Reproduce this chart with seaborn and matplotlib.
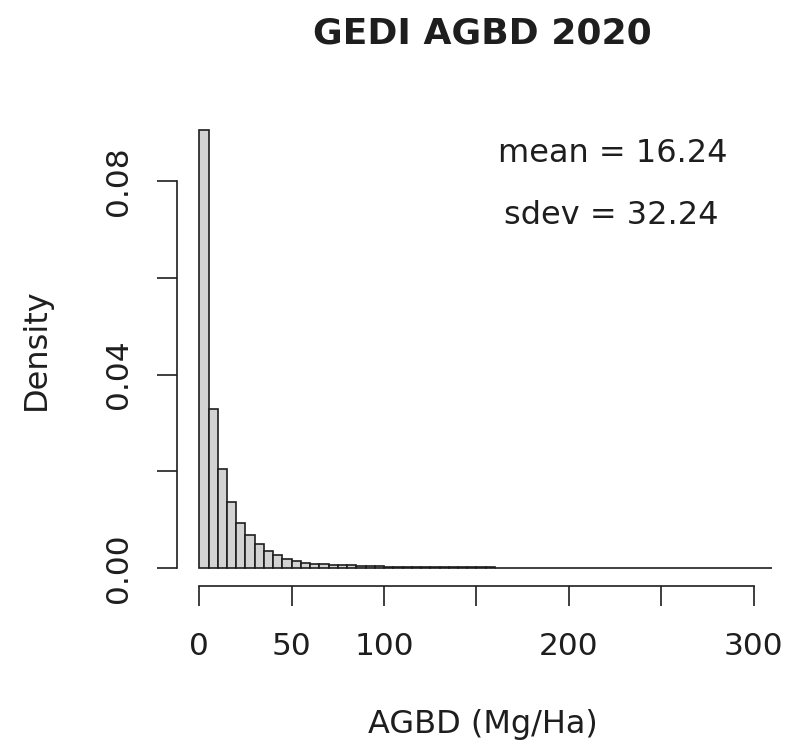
import numpy as np
import pandas as pd
import matplotlib
matplotlib.use("Agg")
import matplotlib.pyplot as plt
import seaborn as sns

# ---- data ----
bin_width = 5
bin_start = 0
density = [
    0.0905, 0.0328, 0.0205, 0.0137, 0.0094, 0.0068, 0.0050, 0.0036, 0.0026, 0.0019,
    0.0014, 0.0011, 0.0009, 0.00076, 0.00068, 0.0006, 0.00052, 0.00045, 0.0004, 0.00035,
    0.0003, 0.00027, 0.00024, 0.00022, 0.0002, 0.00018, 0.00016, 0.00015, 0.00014, 0.00013,
    0.00012, 0.00011, 0.0001, 0.0001, 0.00009, 0.00009, 0.00008, 0.00008, 0.00007, 0.00007,
    0.00007, 0.00006, 0.00006, 0.00006, 0.00005, 0.00005, 0.00005, 0.00005, 0.00004, 0.00004,
    0.00004, 0.00004, 0.00004, 0.00003, 0.00003, 0.00003, 0.00003, 0.00003, 0.00003, 0.00002,
    0.00002, 0.00002,
]
x_ticks = [0, 50, 100, 150, 200, 250, 300]
x_tick_labels = ["0", "50", "100", "", "200", "", "300"]
y_ticks = [0.00, 0.02, 0.04, 0.06, 0.08]
y_tick_labels = ["0.00", "", "0.04", "", "0.08"]
title = "GEDI AGBD 2020"
x_label = "AGBD (Mg/Ha)"
y_label = "Density"
stats_text = ["mean = 16.24", "sdev = 32.24"]

n_bins = len(density)
edges = [bin_start + bin_width * i for i in range(n_bins + 1)]
centers = [e + bin_width / 2 for e in edges[:-1]]
df = pd.DataFrame({"agbd": centers, "density": density})

# ---- style ----
sns.set_style("ticks")
plt.rcParams["font.family"] = ["DejaVu Sans"]
ink = "#1e1e1e"

fig = plt.figure(figsize=(7.88, 7.51), dpi=100)
W, H = 788, 751
left_px, right_px, bottom_px, top_px = 177, 788, 585.5, 113
ax = fig.add_axes([left_px / W, (H - bottom_px) / H,
                   (right_px - left_px) / W, (bottom_px - top_px) / H])

sns.histplot(data=df, x="agbd", weights="density", bins=edges, stat="count",
             ax=ax, color="#d3d3d3", edgecolor=ink, linewidth=1.2, alpha=1)

ax.set_xlim(-12.07, 318.6)
ax.set_ylim(-0.00362, 0.0941)

for s in ["top", "right"]:
    ax.spines[s].set_visible(False)
ax.spines["left"].set_bounds(y_ticks[0], y_ticks[-1])
ax.spines["bottom"].set_bounds(x_ticks[0], x_ticks[-1])
for s in ["left", "bottom"]:
    ax.spines[s].set_linewidth(1.2)
    ax.spines[s].set_color(ink)

ax.set_xticks(x_ticks)
ax.set_xticklabels(x_tick_labels)
ax.set_yticks(y_ticks)
ax.set_yticklabels(y_tick_labels)
ax.tick_params(axis="both", length=14.4, width=1.2, color=ink,
               labelsize=22.5, labelcolor=ink)
ax.tick_params(axis="x", pad=19)
ax.tick_params(axis="y", pad=17)
plt.setp(ax.get_yticklabels(), rotation=90, va="center", ha="right")

ax.set_xlabel(x_label, fontsize=23, color=ink, labelpad=35)
ax.set_ylabel(y_label, fontsize=23, color=ink, labelpad=38)
ax.set_title(title, fontsize=26, fontweight="bold", color=ink, pad=50)

ax.text(224.0, 0.0858, stats_text[0], ha="center", va="center", fontsize=23, color=ink)
ax.text(223.0, 0.0728, stats_text[1], ha="center", va="center", fontsize=23, color=ink)

fig.savefig("out.png", dpi=100, facecolor="white")
